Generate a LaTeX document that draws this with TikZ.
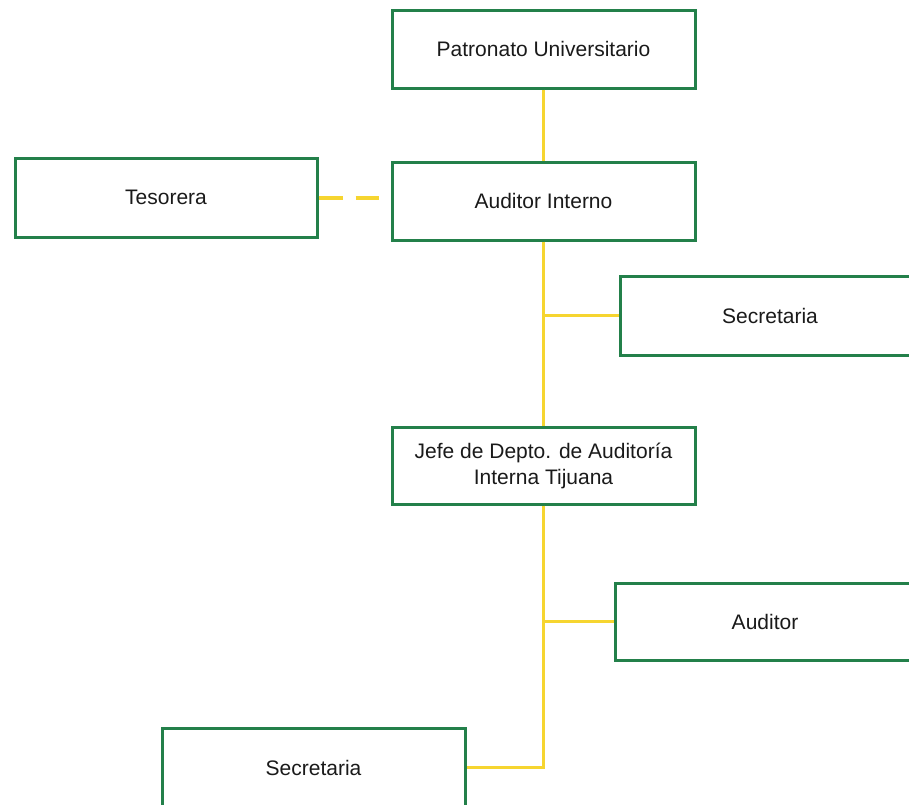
\documentclass[tikz,border=0pt]{standalone}
\usepackage{fontspec}
\setmainfont{Liberation Sans}
\definecolor{boxgreen}{HTML}{23804A}
\definecolor{linkyellow}{HTML}{F6D530}
\definecolor{inktext}{HTML}{1A1A1A}
\begin{document}
\begin{tikzpicture}[x=1pt,y=-1pt,
  unit/.style={draw=boxgreen, line width=3pt, fill=white, rectangle,
    minimum width=303pt, minimum height=78pt, inner sep=0pt,
    align=center, text=inktext, font=\fontsize{21}{26}\selectfont},
  link/.style={draw=linkyellow, line width=2.8pt},
  staff/.style={link, line width=4pt, dash pattern=on 24pt off 13pt}]
\useasboundingbox (0,0) rectangle (909,804);
\clip (0,0) rectangle (909,804);

% organisational units
\node[unit] (pat) at (543.5,49) {Patronato Universitario};
\node[unit] (ai)  at (543.5,201) {Auditor Interno};
\node[unit, minimum width=302pt, minimum height=79pt] (tes) at (166,197.5) {Tesorera};
\node[unit, minimum width=300pt, minimum height=79pt] (sec1) at (770,315.5) {Secretaria};
\node[unit, minimum height=77pt] (jefe) at (543.5,465.5) {Jefe de Depto. de Auditoría\\Interna Tijuana};
\node[unit, minimum width=300pt, minimum height=77pt] (aud) at (765,621.5) {Auditor};
\node[unit] (sec2) at (313.5,767.5) {Secretaria};

% reporting lines
\draw[link] (pat.south) -- (ai.north);
\draw[staff, shorten >=12pt] (tes.east) -- (tes.east -| ai.west);
\draw[link] (ai.south) -- (jefe.north);
\draw[link] (sec1.west) -- (sec1.west -| ai.south);
\draw[link] (jefe.south) |- (sec2.east);
\draw[link] (aud.west) -- (aud.west -| jefe.south);
\end{tikzpicture}
\end{document}
